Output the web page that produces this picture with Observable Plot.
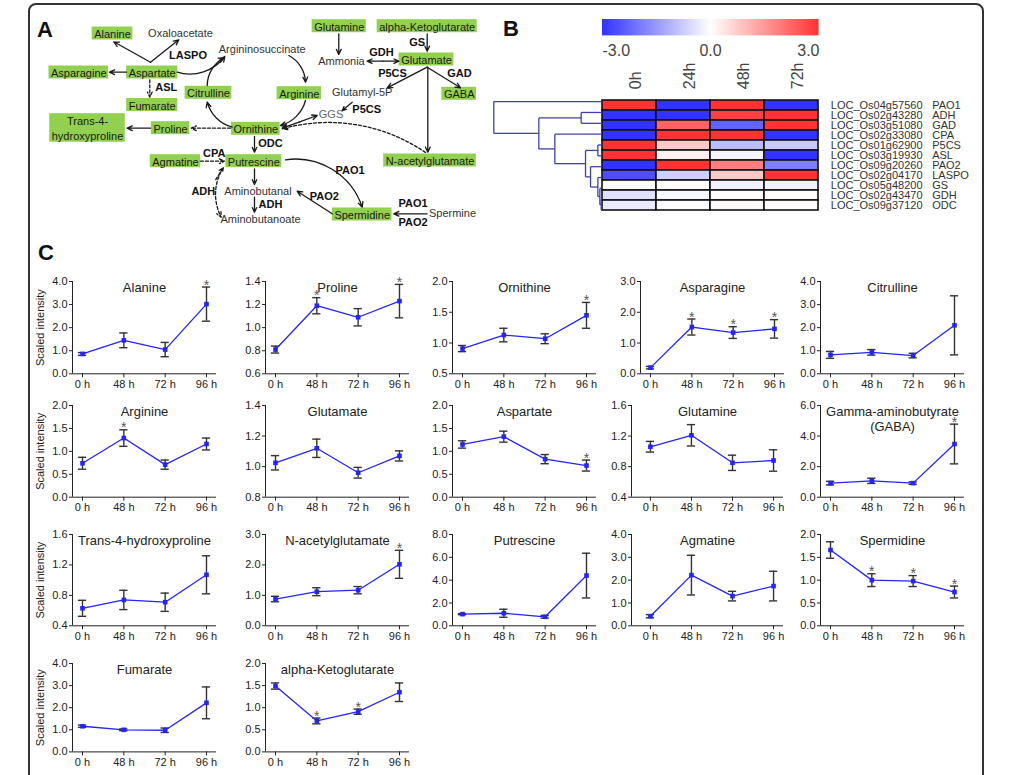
<!DOCTYPE html>
<html><head><meta charset="utf-8">
<script src="https://cdn.jsdelivr.net/npm/d3@7"></script>
<script src="https://cdn.jsdelivr.net/npm/@observablehq/plot@0.6"></script>
<style>
html,body{margin:0;padding:0;background:#fff;overflow:hidden;}
#fig{position:relative;width:1014px;height:775px;font-family:'Liberation Sans',Arial,Helvetica,sans-serif;overflow:hidden;}
#frame{position:absolute;left:28px;top:3px;width:956px;height:820px;border:2px solid #333;border-radius:8px;box-sizing:border-box;}
.plabel{position:absolute;font-weight:bold;font-size:22px;color:#111;line-height:1;}
</style></head><body>
<div id="fig"><div id="frame"></div>
<div class="plabel" style="left:37px;top:19px">A</div>
<div class="plabel" style="left:503px;top:18px">B</div>
<div class="plabel" style="left:38px;top:242px">C</div>
</div>
<script>
// ---------------- DATA ----------------
// Panel A: pathway
const boxedMetabolites = ["Alanine","Asparagine","Aspartate","Fumarate","Citrulline","Trans-4-\nhydroxyproline","Proline","Ornithine","Agmatine","Putrescine","Glutamine","alpha-Ketoglutarate","Glutamate","GABA","Arginine","N-acetylglutamate","Spermidine"];
const plainMetabolites = ["Oxaloacetate","Argininosuccinate","Aminobutanal","Aminobutanoate","Ammonia","Glutamyl-5P","GGS","Spermine"];
const enzymeLabels = ["LASPO","ASL","ODC","CPA","ADH","ADH","GS","GDH","P5CS","GAD","P5CS","PAO1","PAO2","PAO1","PAO2"];

// Panel B: heatmap
const heatTimes = ["0h","24h","48h","72h"];
const genes = ["LOC_Os04g57560","LOC_Os02g43280","LOC_Os03g51080","LOC_Os02g33080","LOC_Os01g62900","LOC_Os03g19930","LOC_Os09g20260","LOC_Os02g04170","LOC_Os05g48200","LOC_Os02g43470","LOC_Os09g37120"];
const geneNames = ["PAO1","ADH","GAD","CPA","P5CS","ASL","PAO2","LASPO","GS","GDH","ODC"];
const heatValues = [
  [3,-3,3,-3],
  [-3,-3,2.8,3],
  [-3,2.3,-2.3,3],
  [-3,3,3,-3],
  [3,0.8,-1.0,-0.8],
  [3,0.2,-0.15,-3],
  [-3,3,1.9,-1.9],
  [-2.6,-0.7,0.8,3],
  [0.05,0.05,-0.2,-0.2],
  [-0.45,-0.1,0.05,0.05],
  [-0.3,0.0,0.08,0.02]
];
const colorTicks = [-3,0,3];
// dendrogram: [mergeHeight, left, right]
const dendroTree = [325, "LOC_Os04g57560",
  [190, [63, "LOC_Os02g43280","LOC_Os03g51080"],
        [142, "LOC_Os02g33080",
          [50, [13, "LOC_Os01g62900","LOC_Os03g19930"],
               [35, "LOC_Os09g20260",
                 [13, "LOC_Os02g04170",
                   [7, "LOC_Os05g48200", [3, "LOC_Os02g43470","LOC_Os09g37120"]]]]]]]];

// Panel C: small multiples
const timeLabels = ["0 h","48 h","72 h","96 h"];
const metabolites = ["Alanine","Proline","Ornithine","Asparagine","Citrulline",
  "Arginine","Glutamate","Aspartate","Glutamine","Gamma-aminobutyrate\n(GABA)",
  "Trans-4-hydroxyproline","N-acetylglutamate","Putrescine","Agmatine","Spermidine",
  "Fumarate","alpha-Ketoglutarate"];
const meanValues = [
  [0.86,1.45,1.05,3.02],
  [0.81,1.19,1.09,1.23],
  [0.91,1.13,1.07,1.45],
  [0.20,1.52,1.34,1.46],
  [0.82,0.93,0.79,2.10],
  [0.74,1.29,0.71,1.16],
  [1.025,1.12,0.96,1.07],
  [1.15,1.32,0.83,0.69],
  [1.06,1.21,0.85,0.88],
  [0.92,1.07,0.92,3.48],
  [0.63,0.74,0.71,1.07],
  [0.88,1.12,1.17,2.02],
  [1.02,1.10,0.79,4.40],
  [0.42,2.22,1.30,1.74],
  [1.66,1.00,0.98,0.74],
  [1.16,1.00,0.98,2.22],
  [1.49,0.70,0.91,1.35]
];
const errValues = [
  [0.06,0.32,0.31,0.74],
  [0.03,0.07,0.075,0.145],
  [0.05,0.11,0.08,0.21],
  [0.04,0.26,0.19,0.30],
  [0.15,0.12,0.10,1.28],
  [0.13,0.18,0.10,0.13],
  [0.047,0.06,0.035,0.033],
  [0.08,0.12,0.10,0.12],
  [0.07,0.14,0.10,0.14],
  [0.12,0.17,0.08,1.30],
  [0.105,0.127,0.12,0.25],
  [0.09,0.13,0.12,0.46],
  [0.05,0.35,0.12,1.96],
  [0.07,0.87,0.21,0.65],
  [0.18,0.14,0.12,0.13],
  [0.05,0.04,0.10,0.72],
  [0.07,0.065,0.06,0.21]
];
const sigFlags = [
  [0,0,0,1],[0,1,0,1],[0,0,0,1],[0,1,1,1],[0,0,0,0],
  [0,1,0,0],[0,0,0,0],[0,0,0,1],[0,0,0,0],[0,0,0,1],
  [0,0,0,0],[0,0,0,1],[0,0,0,0],[0,0,0,0],[0,1,1,1],
  [0,0,0,0],[0,1,1,0]
];
const yDomains = [[0,4],[0.6,1.4],[0.5,2],[0,3],[0,4],[0,2],[0.8,1.4],[0,2],[0.4,1.6],[0,6],[0.4,1.6],[0,3],[0,8],[0,4],[0,2],[0,4],[0,2]];
const yTickSteps = [1,0.2,0.5,1,1,0.5,0.2,0.5,0.4,2,0.4,1,2,1,0.5,1,0.5];
const yAxisLabel = "Scaled intensity";

// ---------------- LAYOUT ----------------
const fontFamily = "'Liberation Sans', Arial, Helvetica, sans-serif";
const fig = document.getElementById("fig");
function place(el, left, top) {
  el.style.position = "absolute"; el.style.left = left + "px"; el.style.top = top + "px";
  fig.appendChild(el);
}
const green = "#92d050";
const heatColor = {type: "linear", domain: [-3,0,3], range: ["#3333ff","#ffffff","#ff3333"]};

// Panel A layout (diagram positions in page pixels)
const nodeLayout = {
  "Alanine":[112,33], "Asparagine":[78.3,72], "Aspartate":[151.7,72], "Fumarate":[151.7,104.5],
  "Citrulline":[208,92.3], "Trans-4-\nhydroxyproline":[87,127.5], "Proline":[170,127.7],
  "Ornithine":[255.3,128.3], "Agmatine":[175,160.7], "Putrescine":[253.3,160.7],
  "Glutamine":[338.7,25.7], "alpha-Ketoglutarate":[426.7,25.7], "Glutamate":[426,59],
  "GABA":[458.7,93.3], "Arginine":[298.8,92.7], "N-acetylglutamate":[429.5,160], "Spermidine":[361.7,214],
  "Oxaloacetate":[180,32.7], "Argininosuccinate":[261.7,49], "Aminobutanal":[257.5,190.7],
  "Aminobutanoate":[260,219.3], "Ammonia":[341,60.7], "Glutamyl-5P":[361.7,92.3], "GGS":[330.5,114], "Spermine":[452,213.3]
};
const enzymeLayout = [[187.5,55],[165.8,87.3],[270,142.7],[213.8,153.3],[202.8,190.7],[270,204],
  [416.7,42.3],[381,52.3],[392,73.3],[459,73.3],[366.2,109],[349.5,170],[323.8,195.7],[412.5,203.3],[412.5,221.7]];
// x1,y1,x2,y2,bend,dashed,double
const edgeLayout = [
  [150,61.7,113.3,41.3,0,0,0],
  [150,61.7,178.3,39.3,0,0,0],
  [126,71.7,109,71.7,0,0,0],
  [149.3,79.3,149.3,96.7,0,1,0],
  [176.7,71.7,224.3,56,-35,0,0],
  [206.7,85,223.3,57.3,30,0,0],
  [231.7,126.7,206.7,101.7,30,0,0],
  [230,127.7,190.7,127.7,0,1,0],
  [150,127.7,126.7,127.7,0,0,0],
  [254,136,254,151.7,0,0,0],
  [200,160.7,224,160.7,0,1,0],
  [254,168.3,254,184,0,0,0],
  [254,196.7,254,211.7,0,0,0],
  [222.7,167.3,220.7,216.7,-30,1,1],
  [288.3,55,305,81.7,30,0,0],
  [305,100,280,125,30,0,0],
  [316.7,115,281.7,127.7,0,0,1],
  [351.7,101.7,341.7,110,0,0,0],
  [426.7,66.7,386.7,87.3,0,0,0],
  [426.7,66.7,460,87.3,0,0,0],
  [427.3,66.7,427.3,151.7,0,0,0],
  [425,152,281.7,128.3,-25,1,0],
  [338.3,33.3,338.3,54,0,0,0],
  [426.7,33.3,426.7,50.7,0,0,0],
  [366.7,60.7,398.3,60.7,0,0,1],
  [285,159.3,361.7,206.7,40,0,0],
  [331.7,213.3,296.7,190.7,0,0,0],
  [426.7,213.3,393.3,213.3,0,0,0]
];

// ---------------- PANEL A ----------------
(function () {
  const ctx = document.createElement("canvas").getContext("2d");
  ctx.font = "11px 'Liberation Sans'";
  const tw = s => Math.max(...s.split("\n").map(l => ctx.measureText(l).width));
  const rects = boxedMetabolites.map(name => {
    const [cx, cy] = nodeLayout[name];
    const n = name.split("\n").length;
    const w = tw(name) + 4, h = n === 1 ? 13 : 14.3 * n;
    return {name, cx, cy, x1: cx - w/2, x2: cx + w/2, y1: cy - h/2, y2: cy + h/2};
  });
  const plain = plainMetabolites.map(name => ({name, cx: nodeLayout[name][0], cy: nodeLayout[name][1]}));
  const enz = enzymeLabels.map((name, i) => ({name, cx: enzymeLayout[i][0], cy: enzymeLayout[i][1]}));
  const arrows = [];
  for (const e of edgeLayout) {
    const [x1,y1,x2,y2,bend,dashed,dbl] = e;
    const opts = {x1:"x1",y1:"y1",x2:"x2",y2:"y2", bend, stroke:"#1a1a1a", strokeWidth:1.3, headLength:6.5, headAngle:50};
    if (dashed) opts.strokeDasharray = "3,2";
    if (dbl && !bend) {
      const mx = (x1+x2)/2, my = (y1+y2)/2;
      arrows.push(Plot.arrow([{x1:mx,y1:my,x2,y2}], opts));
      arrows.push(Plot.arrow([{x1:mx,y1:my,x2:x1,y2:y1}], opts));
    } else {
      arrows.push(Plot.arrow([{x1,y1,x2,y2}], opts));
      if (dbl) {
        const a = Math.atan2(y2-y1, x2-x1) - bend * Math.PI / 180;
        arrows.push(Plot.arrow([{x1: x1 + 14*Math.cos(a), y1: y1 + 14*Math.sin(a), x2: x1, y2: y1}], {...opts, bend: 0}));
      }
    }
  }
  const svg = Plot.plot({
    width: 490, height: 230, margin: 0,
    x: {domain: [0,490], range: [0,490], axis: null},
    y: {domain: [0,230], range: [0,230], axis: null},
    style: {fontFamily, fontSize: "11px", background: "transparent", overflow: "visible"},
    marks: [
      Plot.rect(rects, {x1:"x1", x2:"x2", y1:"y1", y2:"y2", fill: green}),
      ...arrows,
      Plot.text(rects, {x:"cx", y:"cy", text:"name", fontSize: 11, lineHeight: 1.3, fill: "#1a1a1a"}),
      Plot.text(plain, {x:"cx", y:"cy", text:"name", fontSize: 11, fill: d => d.name === "GGS" ? "#666" : "#333"}),
      Plot.text(enz, {x:"cx", y:"cy", text:"name", fontSize: 11, fontWeight: "bold", fill: "#111"})
    ]
  });
  place(svg, 0, 0);
})();

// ---------------- PANEL B ----------------
(function () {
  const cells = genes.flatMap((g, r) => heatTimes.map((t, c) => ({g, t, v: heatValues[r][c]})));
  const heat = Plot.plot({
    width: 520, height: 230, marginLeft: 111.7, marginRight: 191.7, marginTop: 95.7, marginBottom: 15,
    x: {type: "band", domain: heatTimes, padding: 0, axis: null},
    y: {type: "band", domain: genes, padding: 0, axis: null},
    color: heatColor,
    style: {fontFamily, fontSize: "11px", background: "transparent", overflow: "visible"},
    marks: [
      Plot.cell(cells, {x:"t", y:"g", fill:"v", stroke:"#111", strokeWidth:1.6}),
      Plot.text(heatTimes, {x: d => d, text: d => d, frameAnchor:"top", rotate:-90, textAnchor:"start", dy:-7, fontSize:16, fill:"#444"}),
      Plot.text(genes, {y: d => d, text: d => d, frameAnchor:"right", textAnchor:"start", dx:12, fontSize:11, fill:"#333"}),
      Plot.text(geneNames.map((n, i) => ({n, g: genes[i]})), {y:"g", text:"n", frameAnchor:"right", textAnchor:"start", dx:113.4, fontSize:11, fill:"#333"})
    ]
  });
  place(heat, 490, 0);

  // dendrogram
  const segs = [];
  function lay(node) {
    if (typeof node === "string") return {h: 0, y: genes.indexOf(node)};
    const [h, a, b] = node;
    const la = lay(a), lb = lay(b);
    segs.push({x1:h, y1:la.y, x2:h, y2:lb.y});
    segs.push({x1:h, y1:la.y, x2:la.h, y2:la.y});
    segs.push({x1:h, y1:lb.y, x2:lb.h, y2:lb.y});
    return {h, y: (la.y + lb.y) / 2};
  }
  lay(dendroTree);
  const dendro = Plot.plot({
    width: 520, height: 230, marginLeft: 3.3, marginRight: 408.3, marginTop: 95.7, marginBottom: 15,
    x: {domain: [325, 0], axis: null},
    y: {domain: [-0.5, genes.length - 0.5], reverse: true, axis: null},
    style: {background: "transparent", overflow: "visible"},
    marks: [Plot.link(segs, {x1:"x1", y1:"y1", x2:"x2", y2:"y2", stroke:"#4040a8", strokeWidth:1.3})]
  });
  place(dendro, 490, 0);

  // colour bar
  const leg = Plot.legend({
    color: {...heatColor, label: null},
    width: 216.6, height: 64.4, marginLeft: 0, marginRight: 0, marginTop: 18, marginBottom: 30,
    ticks: colorTicks, tickFormat: d => d.toFixed(1), tickSize: 6,
    style: {fontSize: "16px", fontFamily, color: "#444", background: "transparent", overflow: "visible"}
  });
  const sel = d3.select(leg);
  sel.selectAll(".tick line").remove();
  const texts = sel.selectAll(".tick text").nodes();
  if (texts.length) {
    texts[0].setAttribute("text-anchor", "start");
    texts[texts.length - 1].setAttribute("text-anchor", "end");
  }
  place(leg, 601.7, 1.3);
})();

// ---------------- PANEL C ----------------
const colAxisX = [72, 265, 452, 640, 820];
const rowTop = [281, 405, 534, 663.3];
const rowH = [92.3, 91.7, 91.3, 88.4];
const blue = "#2424ff";
metabolites.forEach((name, k) => {
  const row = Math.floor(k / 5), col = k % 5;
  const wide = (k === 8 || k === 13);
  const axisX = wide ? 631 : colAxisX[col];
  const plotW = wide ? 152 : 144;
  const h = rowH[row];
  const mL = col === 0 ? 46 : 32, mR = 8, mT = 18, mB = 24;
  const xlo = wide ? -0.46 : -0.242, xhi = 3.242;
  const data = timeLabels.map((t, i) => ({i, m: meanValues[k][i], e: errValues[k][i], s: sigFlags[k][i]}));
  const [y0, y1] = yDomains[k];
  const yTicks = d3.range(0, Math.round((y1 - y0) / yTickSteps[k]) + 1).map(j => y0 + j * yTickSteps[k]);
  const marks = [
    Plot.ruleY([y0], {stroke: "#222", strokeWidth: 1}),
    Plot.ruleX([xlo], {stroke: "#222", strokeWidth: 1}),
    Plot.ruleX(data, {x: "i", y1: d => d.m - d.e, y2: d => d.m + d.e, stroke: "#333", strokeWidth: 1.4}),
    Plot.ruleY(data, {y: d => d.m - d.e, x1: d => d.i - 0.1, x2: d => d.i + 0.1, stroke: "#333", strokeWidth: 1.4}),
    Plot.ruleY(data, {y: d => d.m + d.e, x1: d => d.i - 0.1, x2: d => d.i + 0.1, stroke: "#333", strokeWidth: 1.4}),
    Plot.line(data, {x: "i", y: "m", stroke: blue, strokeWidth: 1.3}),
    Plot.dot(data, {x: "i", y: "m", symbol: "square", r: 2.6, fill: blue}),
    Plot.text(data.filter(d => d.s), {x: "i", y: d => d.m + d.e, text: () => "*", dy: -2, fontSize: 14, fill: "#555"}),
    Plot.text([name], {text: d => d, frameAnchor: "top", lineAnchor: "top", fontSize: 13, lineHeight: 1.15, fill: "#222"})
  ];
  const svg = Plot.plot({
    width: mL + plotW + mR, height: mT + h + mB,
    marginLeft: mL, marginRight: mR, marginTop: mT, marginBottom: mB,
    style: {fontFamily, fontSize: "11px", color: "#222", background: "transparent", overflow: "visible"},
    x: {domain: [xlo, xhi], ticks: [0,1,2,3], tickFormat: i => timeLabels[i], tickSize: 4, tickPadding: 2, label: null},
    y: {domain: [y0, y1], ticks: yTicks, tickFormat: d => d.toFixed(1), tickSize: 3, tickPadding: 2,
        label: col === 0 ? yAxisLabel : null, labelAnchor: "center", labelOffset: 36, labelArrow: "none"},
    marks
  });
  place(svg, axisX - mL, rowTop[row] - mT);
});
</script>
</body></html>
